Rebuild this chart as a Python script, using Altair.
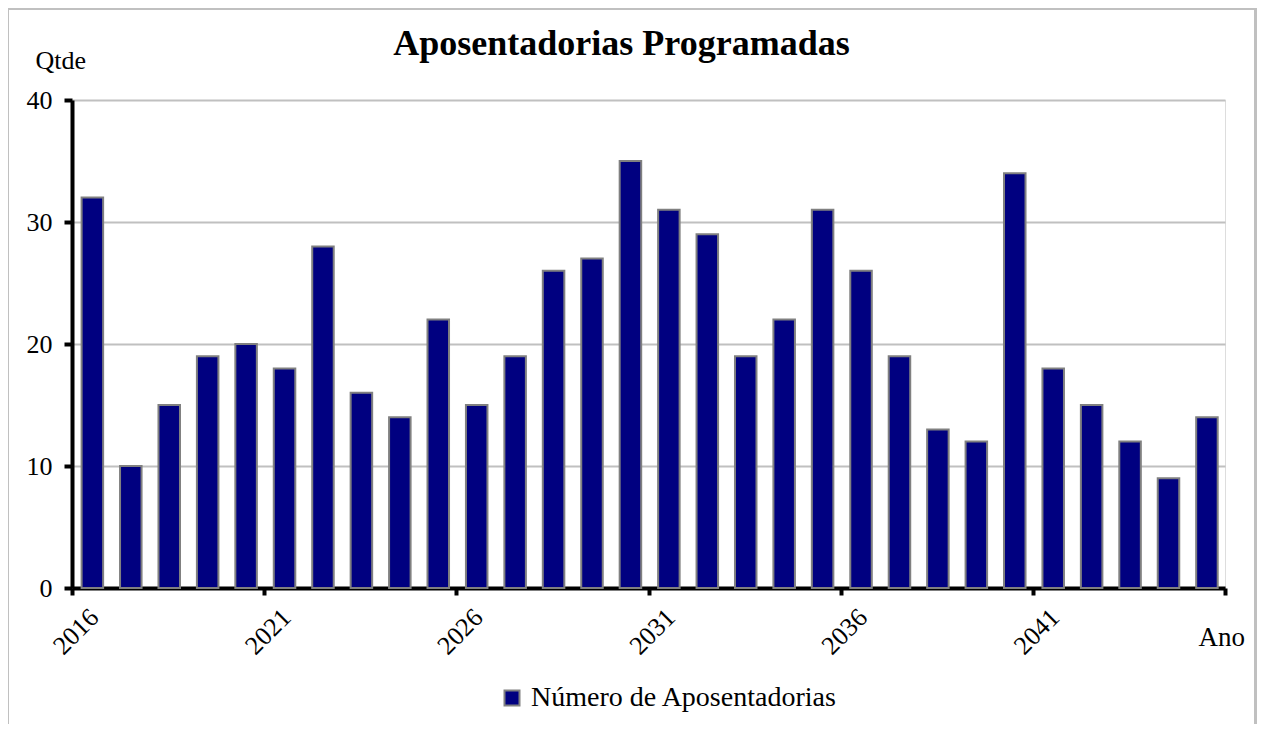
import altair as alt
import pandas as pd

years = list(range(2016, 2046))
values = [32, 10, 15, 19, 20, 18, 28, 16, 14, 22, 15, 19, 26, 27, 35,
          31, 29, 19, 22, 31, 26, 19, 13, 12, 34, 18, 15, 12, 9, 14]
series_name = "Número de Aposentadorias"
tick_years = [2016, 2021, 2026, 2031, 2036, 2041, 2046]
y_ticks = [0, 10, 20, 30, 40]

FONT = "'Liberation Serif', 'Times New Roman', Times, serif"

df = pd.DataFrame({"ano": years, "qtde": values, "serie": series_name})

bars = alt.Chart(df).transform_calculate(
    x0="datum.ano + 0.25", x1="datum.ano + 0.81"
).mark_bar(stroke="#808080", strokeWidth=2, clip=False).encode(
    x=alt.X("x0:Q",
            scale=alt.Scale(domain=[2016, 2046], nice=False, zero=False),
            axis=alt.Axis(values=tick_years, format="d", title="Ano",
                          labelExpr="datum.value == 2046 ? '' : datum.label",
                          labelAngle=-45, labelAlign="right", labelBaseline="middle",
                          labelOffset=22, labelPadding=18, grid=False,
                          domainColor="black", domainWidth=4,
                          tickColor="black", tickWidth=4, tickSize=7,
                          labelFont=FONT, labelFontSize=26, labelColor="black",
                          titleFont=FONT, titleFontSize=27, titleFontWeight="normal",
                          titleColor="black", titleAngle=0, titleAlign="left",
                          titleBaseline="alphabetic", titleX=1126, titleY=57)),
    x2="x1:Q",
    y=alt.Y("qtde:Q",
            scale=alt.Scale(domain=[0, 40], nice=False),
            axis=alt.Axis(values=y_ticks, title="Qtde", grid=True,
                          gridColor="#c0c0c0", gridWidth=2,
                          domainColor="black", domainWidth=4,
                          tickColor="black", tickWidth=4, tickSize=8,
                          labelPadding=12, labelFont=FONT, labelFontSize=26,
                          labelColor="black", labelBaseline="middle",
                          titleFont=FONT, titleFontSize=26, titleFontWeight="normal",
                          titleColor="black", titleAngle=0, titleAlign="left",
                          titleBaseline="alphabetic", titleX=-37, titleY=-32)),
    y2=alt.datum(0),
    color=alt.Color("serie:N", scale=alt.Scale(range=["#000080"]),
                    legend=alt.Legend(title=None, orient="none", legendX=426, legendY=584,
                                      direction="horizontal", symbolType="square",
                                      symbolSize=225, symbolStrokeColor="#808080",
                                      symbolStrokeWidth=2, symbolFillColor="#000080",
                                      labelFont=FONT, labelFontSize=28, labelLimit=0,
                                      labelColor="black", labelOffset=5)),
)

frame = alt.Chart(pd.DataFrame({"a": [0]})).mark_rect(
    fill="transparent", stroke="#c0c0c0", strokeWidth=4, clip=False
).encode(x=alt.value(-65), x2=alt.value(1184), y=alt.value(-92), y2=alt.value(660))

chart = alt.layer(frame, bars).properties(
    width=1153, height=488,
    title=alt.TitleParams("Aposentadorias Programadas", font=FONT, fontSize=36,
                          fontWeight="bold", color="black", anchor="middle",
                          baseline="alphabetic", offset=0, dx=-27, dy=85),
    padding={"left": 64, "top": 92, "right": 32, "bottom": 136},
    autosize=alt.AutoSizeParams(type="none"),
).configure_view(stroke="#c0c0c0", strokeWidth=2).configure(background="white")

chart.save("out.html", embed_options={"renderer": "svg", "actions": False})
